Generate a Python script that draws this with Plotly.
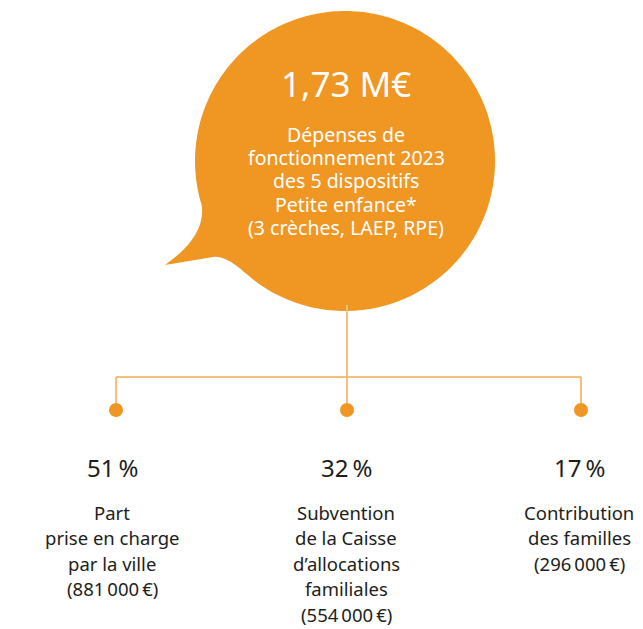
import numpy as np
import plotly.graph_objects as go

# ---- data ----
total_label = "1,73 M€"
subtitle_lines = ["Dépenses de", "fonctionnement 2023", "des 5 dispositifs",
                  "Petite enfance*", "(3 crèches, LAEP, RPE)"]
shares = [51, 32, 17]
amounts = [881000, 554000, 296000]
descriptions = [["Part", "prise en charge", "par la ville"],
                 ["Subvention", "de la Caisse", "d’allocations", "familiales"],
                 ["Contribution", "des familles"]]

# ---- layout constants ----
W, H = 643, 629
ORANGE = "#EF9623"
LINE = "#F7BE7C"
DARK = "#1D1D1B"
FONT = "Noto Sans"
col_x = [116, 347, 581]
cx, cy, r = 345, 161, 150

def fmt_amount(v):
    s = f"{v:,}".replace(",", "\u202f")
    return f"({s}\u202f€)"

# speech bubble path
t_start = 2.157
t_end = 2.844 - 2 * np.pi
ts = np.linspace(t_start, t_end, 240)
pts = [(cx + r * np.cos(t), cy + r * np.sin(t)) for t in ts]
path = "M " + " L ".join(f"{x:.2f},{y:.2f}" for x, y in pts)
p2 = pts[0]
path += f" C 205,228 190,247 165,265 L 213,257 C 230,255 245,275 {p2[0]:.2f},{p2[1]:.2f} Z"

fig = go.Figure()

shapes = [dict(type="path", path=path, fillcolor=ORANGE, line=dict(width=0), layer="below")]
shapes.append(dict(type="line", x0=347, x1=347, y0=305, y1=410, line=dict(color=LINE, width=2), layer="below"))
shapes.append(dict(type="line", x0=col_x[0], x1=col_x[2], y0=377, y1=377, line=dict(color=LINE, width=2), layer="below"))
for x in (col_x[0], col_x[2]):
    shapes.append(dict(type="line", x0=x, x1=x, y0=377, y1=410, line=dict(color=LINE, width=2), layer="below"))

fig.add_trace(go.Scatter(x=col_x, y=[410] * 3, mode="markers",
                         marker=dict(size=14, color=ORANGE, line=dict(width=0)),
                         hoverinfo="skip", showlegend=False))

ann = []
ann.append(dict(x=cx + 1, y=83, text=total_label, showarrow=False,
                font=dict(family=FONT, size=35, color="white"), xanchor="center", yanchor="middle"))
for i, line in enumerate(subtitle_lines):
    ann.append(dict(x=cx + 1, y=134 + i * 23.4, text=line, showarrow=False,
                    font=dict(family=FONT, size=19.5, color="white"), xanchor="center", yanchor="middle"))

label_x = [112, 346, 579]
for k in range(3):
    ann.append(dict(x=label_x[k], y=467, text=f"{shares[k]}\u202f%", showarrow=False,
                    font=dict(family=FONT, size=24, color=DARK), xanchor="center", yanchor="middle"))
    lines = descriptions[k] + [fmt_amount(amounts[k])]
    for i, line in enumerate(lines):
        ann.append(dict(x=label_x[k], y=512 + i * 25.5, text=line, showarrow=False,
                        font=dict(family=FONT, size=18.5, color=DARK), xanchor="center", yanchor="middle"))

fig.update_layout(
    width=W, height=H, margin=dict(l=0, r=0, t=0, b=0),
    paper_bgcolor="white", plot_bgcolor="white",
    xaxis=dict(range=[0, W], visible=False, fixedrange=True),
    yaxis=dict(range=[H, 0], visible=False, fixedrange=True),
    shapes=shapes, annotations=ann, showlegend=False,
)

fig.write_html("out.html", config={"displayModeBar": False},
               post_script="document.body.style.margin='0';document.body.style.overflow='hidden';")
